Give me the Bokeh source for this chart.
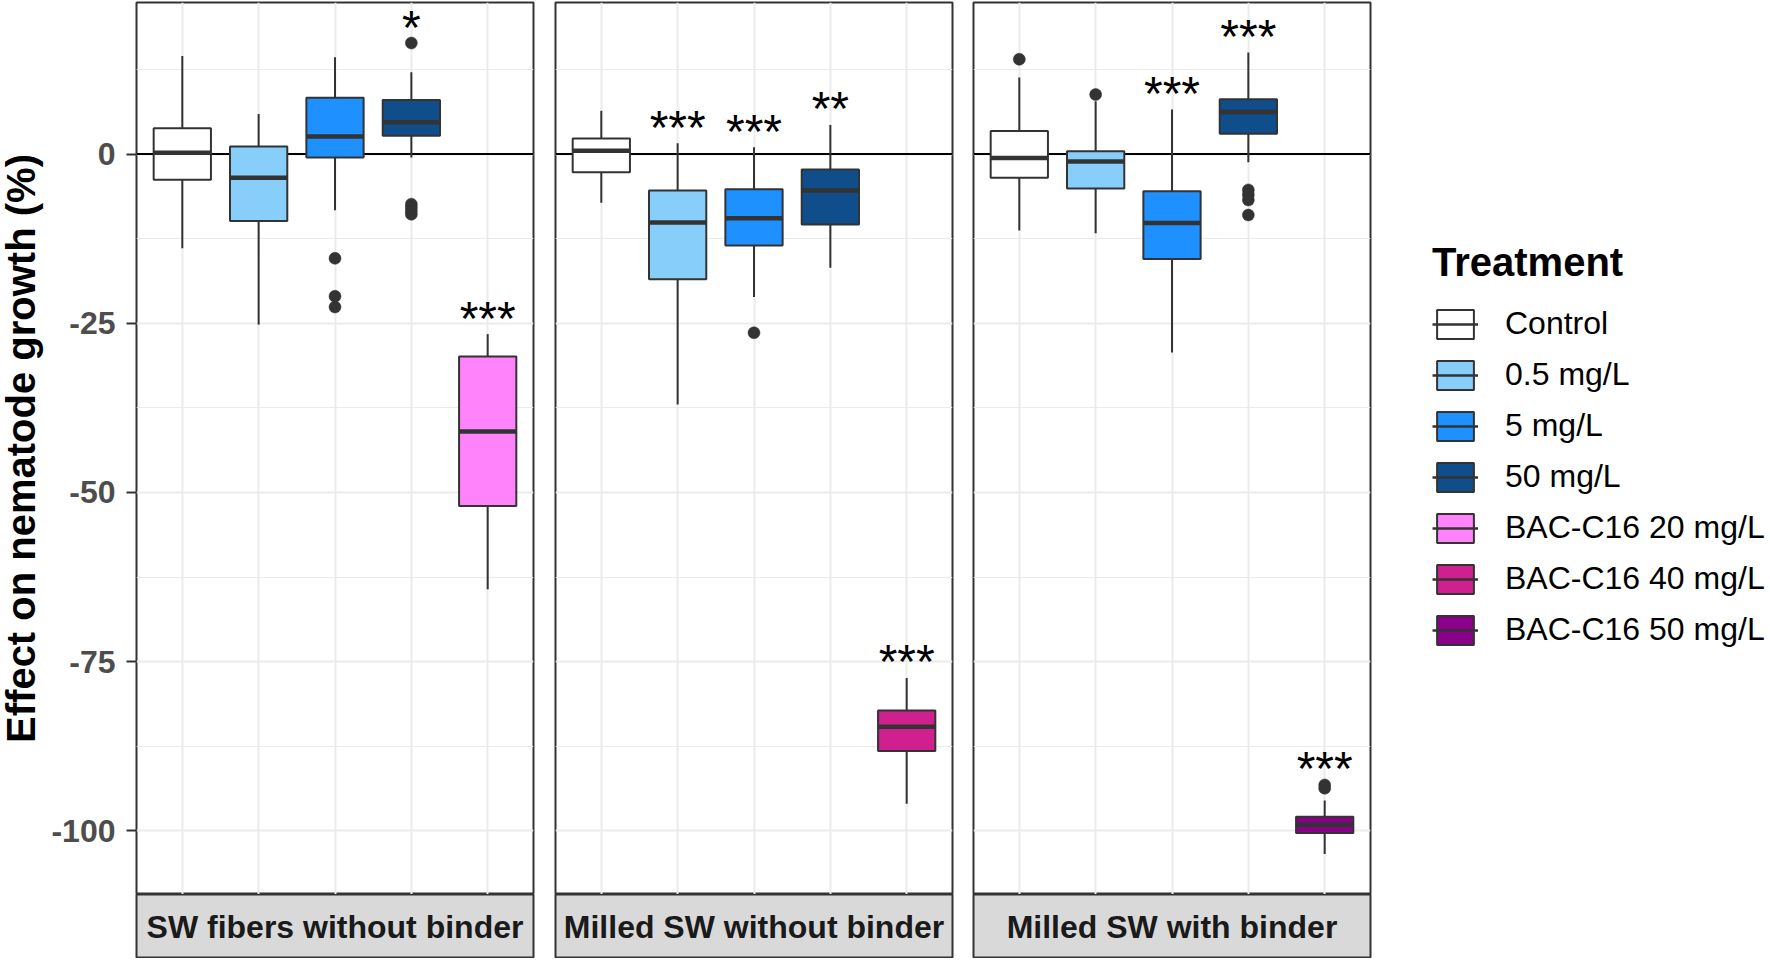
import math
from bokeh.plotting import figure
from bokeh.layouts import row, column
from bokeh.models import (ColumnDataSource, Range1d, FixedTicker, LinearAxis, Grid, Span,
                          Legend, LegendItem)
from bokeh.transform import dodge
from bokeh.core.properties import value
from bokeh.embed import file_html
from bokeh.resources import INLINE

FONT = "Liberation Sans"

# ---------------- data ----------------
treatments = ["Control", "0.5 mg/L", "5 mg/L", "50 mg/L",
              "BAC-C16 20 mg/L", "BAC-C16 40 mg/L", "BAC-C16 50 mg/L"]
treatment_colors = ["#FFFFFF", "#87CEFA", "#1E90FF", "#104E8B",
                    "#FF83FA", "#D02090", "#8B008B"]

facets = ["SW fibers without binder", "Milled SW without binder", "Milled SW with binder"]
facet_treatments = [
    ["Control", "0.5 mg/L", "5 mg/L", "50 mg/L", "BAC-C16 20 mg/L"],
    ["Control", "0.5 mg/L", "5 mg/L", "50 mg/L", "BAC-C16 40 mg/L"],
    ["Control", "0.5 mg/L", "5 mg/L", "50 mg/L", "BAC-C16 50 mg/L"],
]

# SW fibers without binder
sw_lower = [-13.9, -25.2, -8.3, -0.5, -64.3]
sw_q1 = [-3.8, -9.9, -0.5, 2.7, -52.0]
sw_median = [0.2, -3.5, 2.6, 4.7, -41.0]
sw_q3 = [3.8, 1.1, 8.3, 8.0, -29.9]
sw_upper = [14.5, 5.9, 14.3, 12.1, -26.6]
sw_out_treatment = ["5 mg/L", "5 mg/L", "5 mg/L",
                    "50 mg/L", "50 mg/L", "50 mg/L", "50 mg/L", "50 mg/L"]
sw_out_value = [-15.4, -21.0, -22.6, 16.4, -7.4, -7.9, -8.4, -8.9]
sw_sig = ["", "", "", "*", "***"]

# Milled SW without binder
ms_lower = [-7.2, -37.0, -21.1, -16.8, -96.0]
ms_q1 = [-2.7, -18.5, -13.5, -10.4, -88.2]
ms_median = [0.5, -10.1, -9.5, -5.4, -84.6]
ms_q3 = [2.3, -5.4, -5.2, -2.3, -82.2]
ms_upper = [6.4, 1.6, 1.0, 4.3, -77.4]
ms_out_treatment = ["5 mg/L"]
ms_out_value = [-26.4]
ms_sig = ["", "***", "***", "**", "***"]

# Milled SW with binder
mb_lower = [-11.3, -11.7, -29.3, -1.2, -103.4]
mb_q1 = [-3.5, -5.1, -15.5, 3.0, -100.3]
mb_median = [-0.6, -1.1, -10.2, 6.2, -99.1]
mb_q3 = [3.4, 0.4, -5.5, 8.1, -97.9]
mb_upper = [11.3, 7.8, 6.6, 15.0, -95.5]
mb_out_treatment = ["Control", "0.5 mg/L", "50 mg/L", "50 mg/L", "50 mg/L", "50 mg/L",
                    "BAC-C16 50 mg/L", "BAC-C16 50 mg/L"]
mb_out_value = [14.0, 8.8, -5.3, -6.0, -6.8, -9.0, -93.2, -93.7]
mb_sig = ["", "", "***", "***", "***"]

y_ticks = [-100, -75, -50, -25, 0]
y_tick_labels = ["-100", "-75", "-50", "-25", "0"]

facet_stats = [
    (sw_lower, sw_q1, sw_median, sw_q3, sw_upper, sw_out_treatment, sw_out_value, sw_sig),
    (ms_lower, ms_q1, ms_median, ms_q3, ms_upper, ms_out_treatment, ms_out_value, ms_sig),
    (mb_lower, mb_q1, mb_median, mb_q3, mb_upper, mb_out_treatment, mb_out_value, mb_sig),
]

# ---------------- scales ----------------
all_vals = []
for st in facet_stats:
    all_vals += st[0] + st[4] + st[6]
lo, hi = min(all_vals), max(all_vals)
span = hi - lo
y_range = Range1d(lo - 0.05 * span, hi + 0.05 * span)
step = y_ticks[1] - y_ticks[0]
y_ticker = FixedTicker(ticks=y_ticks, minor_ticks=[t + step / 2 for t in y_ticks])

BORDER = "#333333"
GRID = "#EBEBEB"

# frame geometry (px)
FRAME_W = 397
FRAME_H = 892
LEFT = [140, 20, 19]
RIGHT = [2, 2, 2]


def make_panel(i):
    lower, q1, med, q3, upper, out_t, out_v, sig = facet_stats[i]
    names = facet_treatments[i]
    xs = [names.index(n) + 1 for n in names]
    cols = [treatment_colors[treatments.index(n)] for n in names]
    tops = [max([u] + [v for t, v in zip(out_t, out_v) if t == n]) for n, u in zip(names, upper)]
    src = ColumnDataSource(dict(x=xs, treatment=names, color=cols, lower=lower, q1=q1,
                                med=med, q3=q3, upper=upper, sig=sig, top=tops))
    osrc = ColumnDataSource(dict(x=[names.index(t) + 1 for t in out_t], y=out_v))

    p = figure(width=LEFT[i] + FRAME_W + RIGHT[i], height=2 + FRAME_H,
               x_range=Range1d(0.4, len(names) + 0.6), y_range=y_range,
               x_axis_location=None, y_axis_location=None,
               toolbar_location=None, output_backend="svg",
               min_border_left=LEFT[i], min_border_right=RIGHT[i],
               min_border_top=2, min_border_bottom=0,
               outline_line_color=BORDER, outline_line_width=2,
               background_fill_color="white", border_fill_color="white")
    p.center = []
    p.add_layout(Grid(dimension=0, ticker=FixedTicker(ticks=xs), grid_line_color=GRID,
                      grid_line_width=2), "center")
    p.add_layout(Grid(dimension=1, ticker=y_ticker, grid_line_color=GRID, grid_line_width=2,
                      minor_grid_line_color=GRID, minor_grid_line_width=1.2), "center")
    p.add_layout(Span(location=0, dimension="width", line_color="black", line_width=2,
                      level="underlay"))

    p.segment(x0="x", y0="lower", x1="x", y1="upper", source=src,
              line_color=BORDER, line_width=2)
    p.vbar(x="x", width=0.75, bottom="q1", top="q3", source=src,
           fill_color="color", line_color=BORDER, line_width=2)
    p.segment(x0=dodge("x", -0.375), y0="med", x1=dodge("x", 0.375), y1="med", source=src,
              line_color=BORDER, line_width=4.5)
    p.scatter(x="x", y="y", source=osrc, size=12, fill_color=BORDER, line_color=BORDER,
              line_width=0.5)
    p.text(x="x", y="top", text="sig", source=src, text_font=value(FONT),
           text_font_size="48px", text_align="center", text_baseline="alphabetic",
           text_color="black", y_offset=-16)

    if i == 0:
        ax = LinearAxis(ticker=y_ticker,
                        major_label_overrides={t: l for t, l in zip(y_ticks, y_tick_labels)},
                        major_label_text_font=FONT, major_label_text_font_size="32px",
                        major_label_text_font_style="bold", major_label_text_color="#4D4D4D",
                        major_tick_out=10, major_tick_in=0, major_tick_line_color=BORDER,
                        major_tick_line_width=2, minor_tick_line_color=None,
                        axis_line_color=None, major_label_standoff=11,
                        axis_label="Effect on nematode growth (%)",
                        axis_label_text_font=FONT, axis_label_text_font_size="40px",
                        axis_label_text_font_style="bold", axis_label_text_color="black",
                        axis_label_standoff=5)
        p.add_layout(ax, "left")

    s = figure(width=LEFT[i] + FRAME_W + 2, height=64,
               x_range=Range1d(0, 1), y_range=Range1d(0, 1),
               x_axis_location=None, y_axis_location=None,
               toolbar_location=None, output_backend="svg",
               min_border_left=LEFT[i], min_border_right=2,
               min_border_top=0, min_border_bottom=1,
               outline_line_color=BORDER, outline_line_width=2,
               background_fill_color="#D9D9D9", border_fill_color="white")
    s.center = []
    s.text(x=[0.5], y=[0.5], text=[facets[i]], text_font=value(FONT), text_font_size="32px",
           text_font_style="bold", text_align="center", text_baseline="middle",
           text_color="#1A1A1A", y_offset=1)
    return p, s


panels = [make_panel(i) for i in range(3)]

# ---------------- legend ----------------
# legend keys come from NaN placeholder renderers, so nothing is drawn in the frame itself
lg = figure(width=396, height=2 + FRAME_H, x_range=Range1d(0, 1), y_range=Range1d(0, 1),
            x_axis_location=None, y_axis_location=None,
            toolbar_location=None, output_backend="svg",
            min_border_left=0, min_border_right=0, min_border_top=0, min_border_bottom=0,
            outline_line_color=None, background_fill_color="white",
            border_fill_color="white")
lg.center = []
nan = float("nan")
leg_src = ColumnDataSource(dict(x=[nan], y=[nan]))
items = []
for name, col in zip(treatments, treatment_colors):
    b = lg.vbar(x="x", top="y", bottom="y", width=0.75, source=leg_src,
                fill_color=col, line_color=BORDER, line_width=2)
    m = lg.segment(x0="x", y0="y", x1="x", y1="y", source=leg_src,
                   line_color=BORDER, line_width=2.5)
    items.append(LegendItem(label=name, renderers=[b, m]))

legend = Legend(items=items, location=(60, 246), title="Treatment",
                title_text_font=FONT, title_text_font_size="40px",
                title_text_font_style="bold", title_text_color="black", title_standoff=20,
                label_text_font=FONT, label_text_font_size="32px", label_text_color="black",
                glyph_width=46, glyph_height=36, label_height=36, label_standoff=27,
                spacing=14, padding=0, margin=0, border_line_color=None,
                background_fill_alpha=0)
lg.add_layout(legend, "center")

layout = row(*[column(p, s) for p, s in panels], lg, margin=(0, 0, 0, -4))

open("out.html", "w").write(file_html(layout, INLINE))
